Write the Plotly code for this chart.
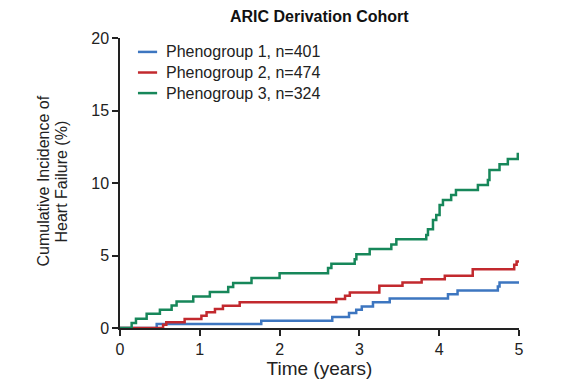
import plotly.graph_objects as go

# Phenogroup 1 (blue) step times (years) and cumulative incidence (%)
t1 = [0, 0.46, 1.77, 2.66, 2.87, 2.96, 3.03, 3.17, 3.38, 4.11, 4.23, 4.735, 4.756, 5.0]
v1 = [0, 0.28, 0.50, 0.76, 1.03, 1.26, 1.49, 1.77, 2.04, 2.32, 2.59, 2.87, 3.14, 3.14]

# Phenogroup 2 (red)
t2 = [0, 0.54, 0.58, 0.81, 1.02, 1.085, 1.19, 1.29, 1.50, 2.71, 2.82, 2.88, 3.25, 3.54, 3.78, 4.07, 4.42, 4.94, 4.97, 5.0]
v2 = [0, 0.23, 0.39, 0.62, 0.85, 1.08, 1.31, 1.54, 1.77, 2.00, 2.22, 2.45, 2.91, 3.14, 3.37, 3.60, 4.06, 4.36, 4.59, 4.59]

# Phenogroup 3 (green)
t3 = [0, 0.146, 0.20, 0.334, 0.50, 0.647, 0.709, 0.918, 1.126, 1.356, 1.418, 1.648, 2.0, 2.607, 2.649,
      2.941, 2.962, 3.129, 3.40, 3.463, 3.838, 3.859, 3.922, 3.963, 4.005, 4.047, 4.15, 4.21, 4.485,
      4.61, 4.63, 4.756, 4.86, 4.985, 5.0]
v3 = [0, 0.34, 0.64, 0.99, 1.26, 1.56, 1.83, 2.18, 2.48, 2.82, 3.10, 3.44, 3.78, 4.13, 4.43,
      4.75, 5.09, 5.44, 5.76, 6.12, 6.42, 6.81, 7.45, 7.80, 8.49, 8.83, 9.17, 9.52, 9.86,
      10.2, 10.9, 11.3, 11.65, 12.0, 12.0]

names = ["Phenogroup 1, n=401", "Phenogroup 2, n=474", "Phenogroup 3, n=324"]
colors = ["#3d76c0", "#c2292e", "#17875a"]

x_ticks = [0, 1, 2, 3, 4, 5]
y_ticks = [0, 5, 10, 15, 20]
y_title_lines = ["Cumulative Incidence of", "Heart Failure (%)"]

font = "Liberation Sans, Arial, sans-serif"
ink = "#222222"

fig = go.Figure()
for t, v, n, c in zip([t1, t2, t3], [v1, v2, v3], names, colors):
    fig.add_trace(go.Scatter(x=t, y=v, mode="lines", name=n,
                             line=dict(color=c, width=2.5, shape="hv"),
                             cliponaxis=False, showlegend=False))

# manual legend (short line keys like the reference)
legend_y = [0.952, 0.881, 0.810]
for yy, n, c in zip(legend_y, names, colors):
    fig.add_shape(type="line", xref="paper", yref="paper", x0=0.045, x1=0.093,
                  y0=yy, y1=yy, line=dict(color=c, width=2.5))
    fig.add_annotation(xref="paper", yref="paper", x=0.111, y=yy, text=n,
                       showarrow=False, xanchor="left", yanchor="middle",
                       font=dict(size=16, color=ink))

# y-axis title as two rotated lines
for line_text, shift in zip(y_title_lines, [-76, -58]):
    fig.add_annotation(xref="paper", yref="paper", x=0, y=0.505, xshift=shift,
                       text=line_text, textangle=-90, showarrow=False,
                       xanchor="center", yanchor="middle",
                       font=dict(size=16, color=ink))

# chart title
fig.add_annotation(xref="paper", yref="paper", x=0.5, y=1, yshift=22,
                   text="<b>ARIC Derivation Cohort</b>", showarrow=False,
                   xanchor="center", yanchor="middle",
                   font=dict(size=16, color="#111111"))

fig.update_layout(
    width=585, height=385,
    margin=dict(l=112, r=74, t=30, b=65),
    paper_bgcolor="white", plot_bgcolor="white",
    font=dict(family=font, size=16, color=ink),
    showlegend=False,
    xaxis=dict(range=[0, 5], tickvals=x_ticks, showgrid=False, zeroline=False,
               showline=True, linecolor=ink, linewidth=1.5,
               ticks="outside", ticklen=6, tickwidth=1.5, tickcolor=ink,
               title=dict(text="Time (years)", standoff=3),
               tickfont=dict(size=16)),
    yaxis=dict(range=[0, 20], tickvals=y_ticks, showgrid=False, zeroline=False,
               showline=True, linecolor=ink, linewidth=1.5,
               ticks="outside", ticklen=6, tickwidth=1.5, tickcolor=ink,
               ticklabelstandoff=0,
               tickfont=dict(size=16)),
)

fig.write_html("out.html")
